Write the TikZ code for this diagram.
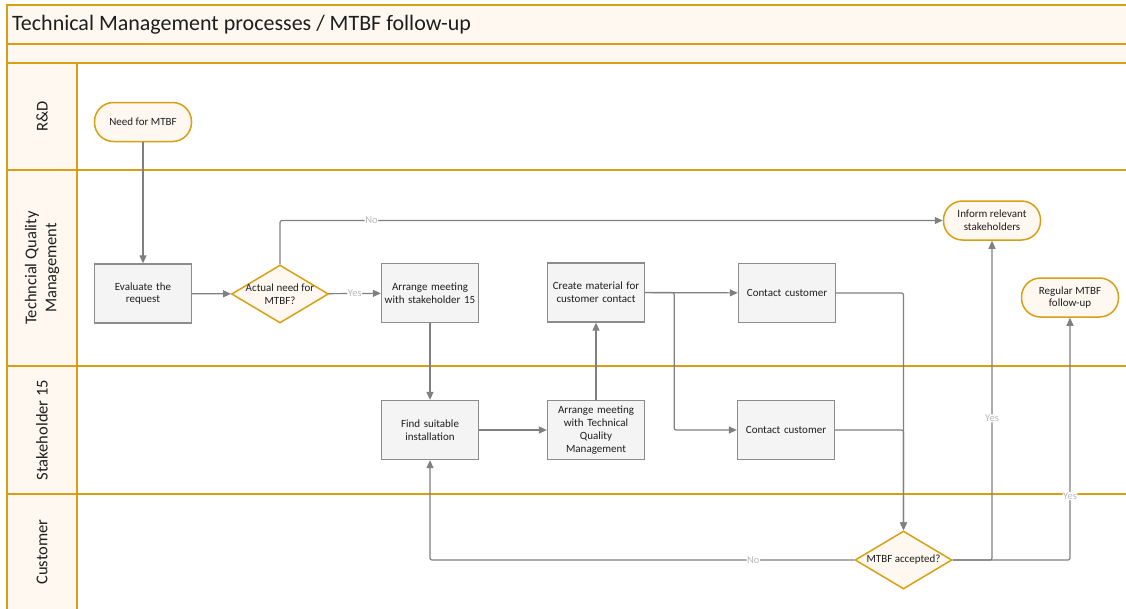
\documentclass[tikz,border=0pt]{standalone}
\usepackage{fontspec}
\setmainfont{Carlito}
\usetikzlibrary{arrows.meta,shapes.geometric,calc}

\definecolor{lanegold}{RGB}{215,160,20}
\definecolor{cream}{RGB}{255,248,240}
\definecolor{boxfill}{RGB}{244,244,244}
\definecolor{boxgray}{RGB}{140,140,140}
\definecolor{flowgray}{RGB}{128,128,128}
\definecolor{labelgray}{RGB}{185,185,185}
\definecolor{inkdark}{RGB}{30,30,30}

\begin{document}
\begin{tikzpicture}[x=1pt,y=-1pt,
  lane/.style={draw=lanegold,line width=1.6pt},
  nodefont/.style={font=\fontsize{11}{12.8}\selectfont,text=inkdark},
  procbox/.style={nodefont,draw=boxgray,fill=boxfill,line width=1.3pt,
    minimum width=97pt,minimum height=59pt,inner sep=1pt,align=center,text width=94pt},
  terminal/.style={nodefont,draw=lanegold,fill=cream,line width=1.5pt,
    rounded corners=19pt,minimum width=97pt,minimum height=39pt,inner sep=1pt,align=center},
  decision/.style={diamond,draw=lanegold,fill=cream,line width=1.5pt,
    minimum width=97pt,minimum height=58pt,inner sep=0pt},
  decisiontext/.style={nodefont,align=center,inner sep=0pt},
  lanename/.style={rotate=90,font=\fontsize{16.5}{20}\selectfont,text=inkdark,align=center},
  flow/.style={draw=flowgray,line width=1.2pt,rounded corners=2pt,
    -{Triangle[length=8pt,width=7pt]}},
  flowlabel/.style={fill=white,text=labelgray,font=\fontsize{10.5}{12}\selectfont,inner sep=0.6pt}
]
\useasboundingbox (0,0) rectangle (1126,608);

% header bands and lane name column
\fill[cream] (7,5) rectangle (1130,63);
\fill[cream] (7,63) rectangle (77,612);
\draw[lane] (7,612) -- (7,5) -- (1130,5);
\draw[lane] (7,44) -- (1130,44);
\draw[lane] (7,63) -- (1130,63);
\draw[lane] (7,170) -- (1130,170);
\draw[lane] (7,366) -- (1130,366);
\draw[lane] (7,494) -- (1130,494);
\draw[lane] (77,63) -- (77,612);

\node[anchor=west,font=\fontsize{22}{26}\selectfont,text=inkdark,inner sep=0pt] (title) at (12,25) {Technical Management processes / MTBF follow-up};

% lane names
\node[lanename] (laneRD) at (42,116.5) {R\&D};
\node[lanename] (laneTQM) at (42,268) {Techncial Quality\\Management};
\node[lanename] (laneSH) at (42,430) {Stakeholder 15};
\node[lanename] (laneCU) at (42,552) {Customer};

% process steps
\node[terminal] (need) at (143,122) {Need for MTBF};
\node[procbox] (eval) at (143,293.5) {Evaluate the\\request};
\node[decision] (dec1) at (280,294) {};
\node[decisiontext] (dec1t) at (dec1.center) {Actual need for\\MTBF?};
\node[procbox] (arr15) at (430,293) {Arrange meeting\\with stakeholder 15};
\node[procbox] (mat) at (596,292.5) {Create material for\\customer contact};
\node[procbox] (cc1) at (787,293) {Contact customer};
\node[terminal] (inform) at (992,220.5) {Inform relevant\\stakeholders};
\node[terminal] (regular) at (1070,297.5) {Regular MTBF\\follow-up};
\node[procbox] (find) at (430,430) {Find suitable\\installation};
\node[procbox] (arrTQM) at (596,430) {Arrange meeting\\with Technical\\Quality\\Management};
\node[procbox] (cc2) at (786,430) {Contact customer};
\node[decision] (dec2) at (903.5,560) {};
\node[decisiontext] (dec2t) at (dec2.center) {MTBF accepted?};

% connectors
\draw[flow] (need) -- (eval);
\draw[flow] (eval) -- (dec1);
\draw[flow] (dec1) -- node[flowlabel]{Yes} (arr15);
\draw[flow] (dec1.north) |- node[flowlabel,pos=0.569]{No} (inform.west);
\draw[flow] (arr15) -- (find);
\draw[flow] (find) -- (arrTQM);
\draw[flow] (arrTQM) -- (mat);
\draw[flow] (mat) -- (cc1);
\draw[flow] (mat.east) -- ++(29,0) |- (cc2.west);
\draw[flow] (cc1.east) -| (dec2.north);
\draw[flow] (cc2.east) -| (dec2.north);
\draw[flow] (dec2.east) -| node[flowlabel,pos=0.722]{Yes} (inform.south);
\draw[flow] (dec2.east) -| node[flowlabel,pos=0.632]{Yes} (regular.south);
\draw[flow] (dec2.west) -| node[flowlabel,pos=0.119]{No} (find.south);
\end{tikzpicture}
\end{document}
